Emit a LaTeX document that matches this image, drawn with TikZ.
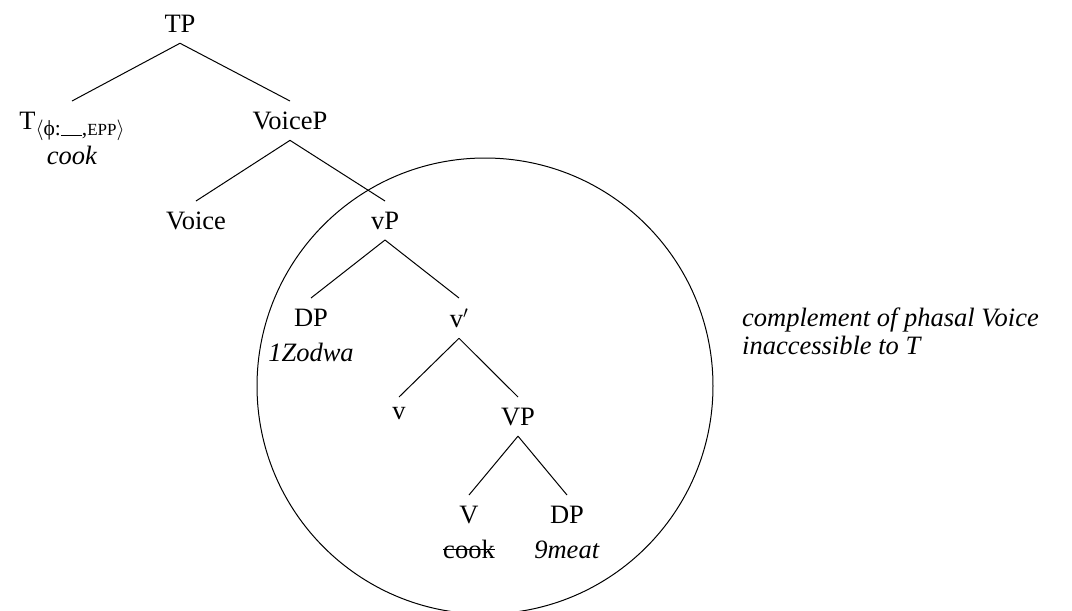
\documentclass[tikz,border=0pt]{standalone}
\usepackage{fontspec}
\setmainfont{Liberation Serif}
\newcommand{\mystrike}[1]{\sbox0{#1}\rlap{\rule[0.3em]{\wd0}{1.2pt}}\usebox0}
\newcommand{\Tfeat}{{\fontsize{21.5pt}{21.5pt}\selectfont\raisebox{-6pt}{$\langle$ϕ:\rule[-1pt]{21pt}{1.4pt},{\fontsize{17pt}{17pt}\selectfont EPP}$\rangle$}}}
\begin{document}
\begin{tikzpicture}[x=1pt,y=-1pt,
  treenode/.style={anchor=north, inner xsep=0pt, inner ysep=10.5pt, align=center,
    font=\fontsize{26.5pt}{35pt}\selectfont},
  branch/.style={line width=1pt}]
\useasboundingbox (0,0) rectangle (1072,611);
\node[treenode] (TP) at (180,4.5) {TP};
\node[treenode] (T) at (72,101) {T\Tfeat\\\textit{cook}};
\node[treenode] (VoiceP) at (290,101) {VoiceP};
\node[treenode] (Voice) at (196,201) {Voice};
\node[treenode] (vP) at (385,201) {vP};
\node[treenode] (DPa) at (311,298) {DP\\\textit{1Zodwa}};
\node[treenode] (vbar) at (459,298) {v$'$};
\node[treenode] (v) at (399,397) {v};
\node[treenode] (VP) at (518,397) {VP};
\node[treenode] (V) at (469,495) {V\\\mystrike{cook}};
\node[treenode] (DPb) at (567,495) {DP\\\textit{9meat}};
\draw[branch] (TP.south) -- (T.north);
\draw[branch] (TP.south) -- (VoiceP.north);
\draw[branch] (VoiceP.south) -- (Voice.north);
\draw[branch] (VoiceP.south) -- (vP.north);
\draw[branch] (vP.south) -- (DPa.north);
\draw[branch] (vP.south) -- (vbar.north);
\draw[branch] (vbar.south) -- (v.north);
\draw[branch] (vbar.south) -- (VP.north);
\draw[branch] (VP.south) -- (V.north);
\draw[branch] (VP.south) -- (DPb.north);
\node[circle, draw, line width=1pt, minimum size=456pt, inner sep=0pt] (phase) at (485,386) {};
\node[anchor=north west, inner sep=0pt, align=left,
  font=\itshape\fontsize{26.5pt}{27.6pt}\selectfont] (note) at (742,308)
  {complement of phasal Voice\\inaccessible to T};
\end{tikzpicture}
\end{document}
